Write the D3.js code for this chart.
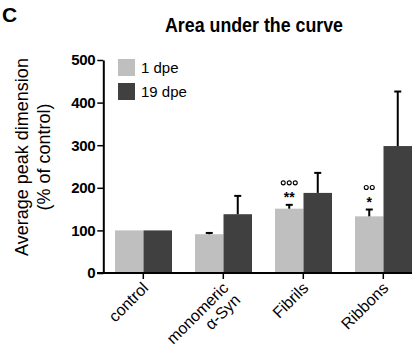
<!DOCTYPE html>
<html>
<head>
<meta charset="utf-8">
<script src="https://cdn.jsdelivr.net/npm/d3@7"></script>
<style>
  body { margin: 0; background: #fff; }
  text { font-family: "Liberation Sans", Arial, sans-serif; }
</style>
</head>
<body>
<svg></svg>
<script>
let categories = ['control', 'monomeric\nα-Syn', 'Fibrils', 'Ribbons']
let series = ['1 dpe', '19 dpe']
let values1 = [100, 91, 151, 133]
let errors1 = [0, 3, 9, 16]
let values19 = [100, 138, 188, 298]
let errors19 = [0, 43, 47, 128]
let stars = ['', '', '**', '*']
let circleCounts = [0, 0, 3, 2]
let yTicks = [0, 100, 200, 300, 400, 500]

let width = 412
let height = 350
let colors = ['#bfbfbf', '#404040']

let svg = d3.select('svg')
    .attr('width', width)
    .attr('height', height)

let xScale = d3.scaleBand()
    .domain(categories)
    .range([103.3, 423.3])

let subScale = d3.scaleBand()
    .domain(series)
    .range([11.7, 68.7])

let yScale = d3.scaleLinear()
    .domain([0, 500])
    .range([273, 60])

// bars
let rows = []
categories.forEach((c, i) => {
    rows.push({cat: c, s: series[0], v: values1[i], e: errors1[i], col: colors[0]})
    rows.push({cat: c, s: series[1], v: values19[i], e: errors19[i], col: colors[1]})
})

svg.selectAll('.bar')
    .data(rows)
    .enter()
    .append('rect')
    .attr('x', d => xScale(d.cat) + subScale(d.s))
    .attr('width', subScale.bandwidth())
    .attr('y', d => yScale(d.v))
    .attr('height', d => yScale(0) - yScale(d.v))
    .attr('fill', d => d.col)

// error bars (upper only)
let errRows = rows.filter(d => d.e > 0)
let errG = svg.append('g').attr('stroke', '#000').attr('stroke-width', 2)
errRows.forEach(d => {
    let cx = xScale(d.cat) + subScale(d.s) + subScale.bandwidth() / 2
    errG.append('line')
        .attr('x1', cx).attr('x2', cx)
        .attr('y1', yScale(d.v)).attr('y2', yScale(d.v + d.e))
    errG.append('line')
        .attr('x1', cx - 3.5).attr('x2', cx + 3.5)
        .attr('y1', yScale(d.v + d.e)).attr('y2', yScale(d.v + d.e))
})

// significance marks
categories.forEach((c, i) => {
    if (!stars[i]) return
    let cx = xScale(c) + subScale(series[0]) + subScale.bandwidth() / 2
    let top = yScale(values1[i] + errors1[i])
    svg.append('text')
        .attr('x', cx).attr('y', top - 3)
        .attr('text-anchor', 'middle')
        .attr('font-size', 14).attr('font-weight', 'bold')
        .text(stars[i])
    let n = circleCounts[i]
    for (let k = 0; k < n; k++) {
        svg.append('circle')
            .attr('cx', cx + (k - (n - 1) / 2) * 6)
            .attr('cy', top - 22)
            .attr('r', 2)
            .attr('fill', 'none')
            .attr('stroke', '#000')
            .attr('stroke-width', 1.1)
    }
})

// axes
let yAxis = d3.axisLeft(yScale).tickValues(yTicks).tickSize(6).tickSizeOuter(0)
let yG = svg.append('g')
    .attr('transform', 'translate(103.3,0)')
    .call(yAxis)
yG.select('.domain').attr('stroke-width', 2)
yG.selectAll('.tick line').attr('stroke-width', 1.5)
yG.selectAll('.tick text')
    .attr('font-size', 15).attr('font-weight', 'bold')
    .attr('letter-spacing', -0.3)
    .attr('fill', '#000')
    .attr('x', -8)

let xAxis = d3.axisBottom(xScale).tickSize(6).tickSizeOuter(0).tickFormat('')
let xG = svg.append('g')
    .attr('transform', 'translate(0,273)')
    .call(xAxis)
xG.select('.domain').attr('stroke-width', 2).attr('d', 'M97,0H412')
xG.selectAll('.tick line').attr('stroke-width', 1.5)

// rotated x labels
categories.forEach(c => {
    let cx = xScale(c) + xScale.bandwidth() / 2
    let lines = c.split('\n')
    let t = svg.append('text')
        .attr('transform', 'translate(' + (cx + 6) + ',289) rotate(-45)')
        .attr('text-anchor', 'end')
        .attr('font-size', 16)
    lines.forEach((l, j) => {
        t.append('tspan')
            .attr('x', 0)
            .attr('dy', j === 0 ? 0 : 17)
            .text(l)
    })
})

// y label
let yl = svg.append('text')
    .attr('transform', 'translate(28,157) rotate(-90)')
    .attr('text-anchor', 'middle')
    .attr('font-size', 18)
yl.append('tspan').attr('x', 0).attr('dy', 0).text('Average peak dimension')
yl.append('tspan').attr('x', 0).attr('dy', 22).text('(% of control)')

// title
svg.append('text')
    .attr('x', 254).attr('y', 32)
    .attr('text-anchor', 'middle')
    .attr('font-size', 20).attr('font-weight', 'bold')
    .attr('textLength', 178)
    .attr('lengthAdjust', 'spacingAndGlyphs')
    .text('Area under the curve')

svg.append('text')
    .attr('x', 2).attr('y', 22)
    .attr('font-size', 21).attr('font-weight', 'bold')
    .text('C')

// legend
series.forEach((s, i) => {
    svg.append('rect')
        .attr('x', 118).attr('y', 59 + i * 24)
        .attr('width', 17).attr('height', 17)
        .attr('fill', colors[i])
    svg.append('text')
        .attr('x', 141).attr('y', 73 + i * 24)
        .attr('font-size', 15)
        .text(s)
})
</script>
</body>
</html>
